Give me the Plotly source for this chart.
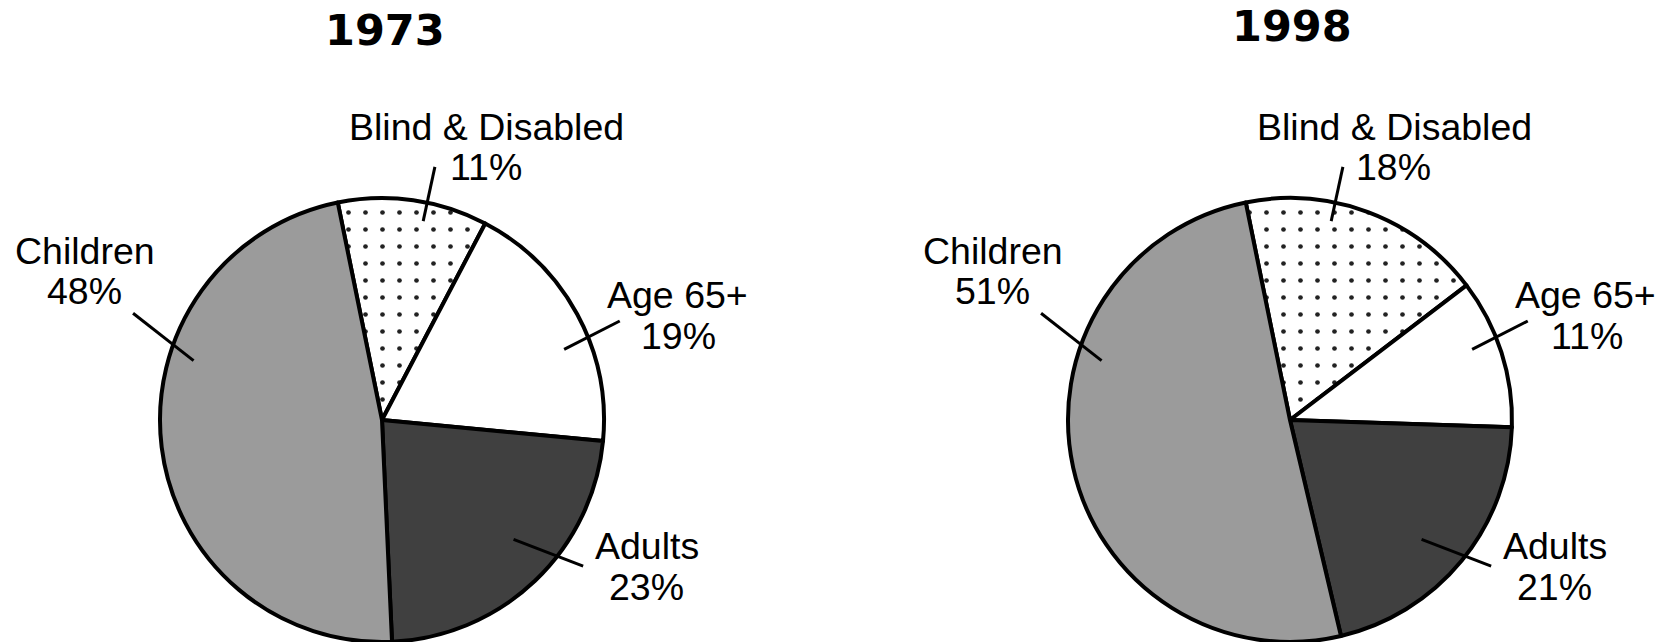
import math
import plotly.graph_objects as go

# ---- data ----
categories = ["Blind & Disabled", "Age 65+", "Adults", "Children"]
years = ["1973", "1998"]
values_1973 = [11, 19, 23, 48]
values_1998 = [18, 11, 21, 51]

# ---- layout / style ----
W, H = 1660, 642
R = 222
CENTERS = {"1973": (382, 420), "1998": (1290, 420)}
TITLE_POS = {"1973": (384.5, 29.5), "1998": (1292, 26.5)}
ROTATION = -11.5
COLORS = {
    "Blind & Disabled": "#ffffff",
    "Age 65+": "#ffffff",
    "Adults": "#404040",
    "Children": "#9b9b9b",
}
# leader line geometry per category: (angle_in deg, r_in frac, angle_out deg, r_out frac)
LEADER = {
    "Blind & Disabled": (11.7, 0.915, 11.8, 1.165),
    "Age 65+": (68.8, 0.88, 67.4, 1.16),
    "Adults": (132.2, 0.80, 126.0, 1.12),
    "Children": (287.5, 0.89, 293.2, 1.22),
}
# text offsets (px) from the leader line's outer end: (name), (percent)
LABEL_OFF = {
    "Blind & Disabled": ((52, -40), (51, 0)),
    "Age 65+": ((58, -26), (59, 14.5)),
    "Adults": ((64, -20), (63.5, 21)),
    "Children": ((-48.5, -62.5), (-49, -22.5)),
}
LABEL_FONT = dict(family="Liberation Sans, Arial, sans-serif", size=37.5, color="black")
TITLE_FONT = dict(family="DejaVu Sans, sans-serif", size=43, color="black")


def px(x, y):
    return x / W, 1 - y / H


fig = go.Figure()
shapes = []
annotations = []

for year, vals in zip(years, [values_1973, values_1998]):
    cx, cy = CENTERS[year]
    fig.add_trace(go.Pie(
        labels=categories,
        values=vals,
        sort=False,
        direction="clockwise",
        rotation=ROTATION,
        textinfo="none",
        hoverinfo="skip",
        showlegend=False,
        domain=dict(x=[(cx - R) / W, (cx + R) / W], y=[1 - (cy + R) / H, 1 - (cy - R) / H]),
        marker=dict(
            colors=[COLORS[c] for c in categories],
            line=dict(color="black", width=4),
            pattern=dict(
                shape=[".", "", "", ""],
                fgcolor="#222222",
                bgcolor=[COLORS[c] for c in categories],
                size=17,
                solidity=0.06,
            ),
        ),
    ))
    tx, ty = TITLE_POS[year]
    x, y = px(tx, ty)
    annotations.append(dict(x=x, y=y, xref="paper", yref="paper", text=f"<b>{year}</b>",
                            showarrow=False, font=TITLE_FONT, xanchor="center", yanchor="middle"))
    for cat, v in zip(categories, vals):
        a_in, r_in, a_out, r_out = LEADER[cat]
        x0 = cx + R * r_in * math.sin(math.radians(a_in))
        y0 = cy - R * r_in * math.cos(math.radians(a_in))
        x1 = cx + R * r_out * math.sin(math.radians(a_out))
        y1 = cy - R * r_out * math.cos(math.radians(a_out))
        p0 = px(x0, y0)
        p1 = px(x1, y1)
        shapes.append(dict(type="line", xref="paper", yref="paper",
                           x0=p0[0], y0=p0[1], x1=p1[0], y1=p1[1],
                           line=dict(color="black", width=3)))
        (dnx, dny), (dpx, dpy) = LABEL_OFF[cat]
        for txt, (dx, dy) in ((cat, (dnx, dny)), (f"{v}%", (dpx, dpy))):
            ax, ay = px(x1 + dx, y1 + dy)
            annotations.append(dict(x=ax, y=ay, xref="paper", yref="paper", text=txt,
                                    showarrow=False, font=LABEL_FONT,
                                    xanchor="center", yanchor="middle"))

fig.update_layout(
    width=W, height=H,
    margin=dict(l=0, r=0, t=0, b=0),
    paper_bgcolor="white",
    plot_bgcolor="white",
    shapes=shapes,
    annotations=annotations,
)

fig.write_html(
    "out.html",
    config={"displayModeBar": False},
    post_script="document.body.style.margin='0';document.body.style.overflow='hidden';",
)
